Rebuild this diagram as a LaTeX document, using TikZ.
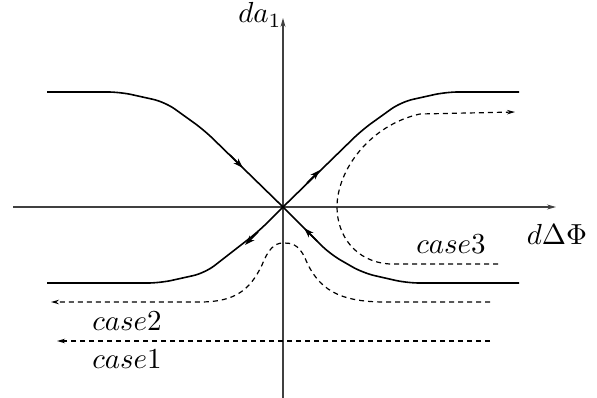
\documentclass[tikz,border=0pt]{standalone}
\usepackage{graphicx}
\usetikzlibrary{arrows.meta}
\newcommand{\bigtxt}[1]{\scalebox{2.9}{#1}}
\begin{document}
\begin{tikzpicture}[x=1pt,y=-1pt,
  axis/.style={line width=1.1pt,black!75,-{Stealth[length=9pt,width=5pt]}},
  sep/.style={line width=1.6pt,black,rounded corners=12pt},
  tipmark/.style={line width=1.6pt,-{Stealth[length=10pt,width=6.5pt]}},
  traj/.style={line width=1.2pt,dash pattern=on 5pt off 4pt,-{Stealth[length=8pt,width=4.5pt,open]}},
  lbl/.style={inner sep=0pt}]
\useasboundingbox (0,0) rectangle (597,398);
% axes
\coordinate (O) at (283,207);
\coordinate (xs) at (13,207);
\coordinate (xe) at (556,207);
\coordinate (ys) at (283,398);
\coordinate (ye) at (283,18);
\draw[axis] (xs) -- (xe);
\draw[axis] (ys) -- (ye);
% separatrices
\draw[sep] (47,92) -- (120,92) -- (165,102) -- (204,130) -- (O);
\draw[sep] (O) -- (362,130) -- (401,102) -- (446,92) -- (519,92);
\draw[sep] (47,283) -- (160,283) -- (205,273) -- (259,231) -- (O);
\draw[sep] (O) -- (330,254) -- (363,273) -- (407,283) -- (519,283);
% direction marks
\draw[tipmark] (230,155) -- (243,168);
\draw[tipmark] (307,183) -- (320,170);
\draw[tipmark] (258,232) -- (245,245);
\draw[tipmark] (317,241) -- (304,228);
% case 3
\coordinate (c3s) at (498,264);
\coordinate (c3e) at (515,112);
\draw[traj] (c3s) -- (390,264) .. controls (355,262) and (337,235) .. (337,207)
  .. controls (337,170) and (370,125) .. (420,114) -- (c3e);
% case 2
\coordinate (c2s) at (490,302);
\coordinate (c2e) at (51,302);
\draw[traj] (c2s) -- (385,302) .. controls (340,302) and (318,290) .. (305,258)
  .. controls (298,243) and (290,243) .. (283,243)
  .. controls (274,243) and (268,250) .. (262,265)
  .. controls (250,290) and (235,302) .. (200,302) -- (c2e);
% case 1
\coordinate (c1s) at (490,341);
\coordinate (c1e) at (57,341);
\draw[traj] (c1s) -- (c1e);
% labels
\node[lbl] (la) at (260,15) {\bigtxt{$da_1$}};
\node[lbl] (lx) at (557,234) {\bigtxt{$d\Delta\Phi$}};
\node[lbl] (l3) at (451,244) {\bigtxt{$case3$}};
\node[lbl] (l2) at (127,321) {\bigtxt{$case2$}};
\node[lbl] (l1) at (127,359) {\bigtxt{$case1$}};
\end{tikzpicture}
\end{document}
